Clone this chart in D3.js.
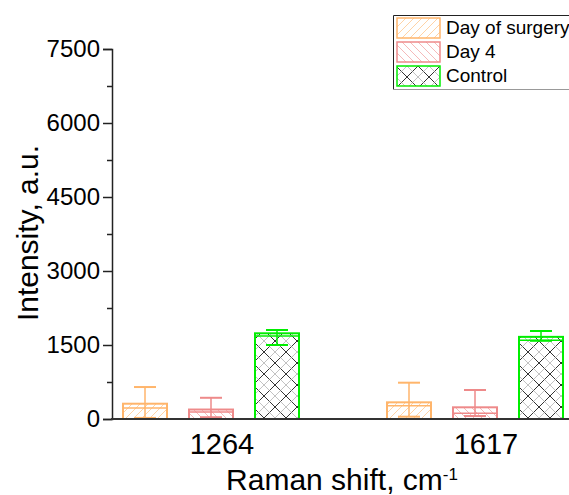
<!DOCTYPE html>
<html>
<head>
<meta charset="utf-8">
<script src="https://cdn.jsdelivr.net/npm/d3@7"></script>
<style>
  html, body { margin: 0; padding: 0; background: #fff; }
  svg { display: block; font-family: "Liberation Sans", Arial, sans-serif; }
</style>
</head>
<body>
<svg id="chart" width="569" height="495"></svg>
<script>
// Raman band positions and groups
const shifts = ["1264", "1617"];
const groups = ["Day of surgery", "Day 4", "Control"];

// Column heights per group (one value per band)
const barTop = {
  "Day of surgery": [310, 338],
  "Day 4": [192, 237],
  "Control": [1737, 1665]
};
// Second horizontal line drawn inside each column
const innerLine = {
  "Day of surgery": [225, 270],
  "Day 4": [140, 115],
  "Control": [1683, 1595]
};
// Error bar limits
const errLow = {
  "Day of surgery": [22, 47],
  "Day 4": [36, 60],
  "Control": [1500, 1585]
};
const errHigh = {
  "Day of surgery": [648, 736],
  "Day 4": [430, 588],
  "Control": [1804, 1784]
};

const yTicks = [0, 1500, 3000, 4500, 6000, 7500];
const yMinorTicks = [750, 2250, 3750, 5250, 6750];

const colors = {
  "Day of surgery": "#FFB56B",
  "Day 4": "#EE8A8A",
  "Control": "#00EE00"
};

const svg = d3.select("#chart");
const defs = svg.append("defs");

// Hatch patterns
function single(id, color, dir, step, opacity) {
  const p = defs.append("pattern")
    .attr("id", id).attr("patternUnits", "userSpaceOnUse")
    .attr("width", step).attr("height", step);
  p.append("rect").attr("width", step).attr("height", step).attr("fill", "#fff");
  const d = dir === "/"
    ? `M0,${step} L${step},0 M${-step},${step} L0,0 M${step},${2*step} L${2*step},${step}`
    : `M0,0 L${step},${step} M${-step},0 L0,${step} M${step},0 L${2*step},${step}`;
  p.append("path").attr("d", d).attr("stroke", color).attr("stroke-width", 1)
    .attr("opacity", opacity).attr("fill", "none");
}
single("pat-surgery", "#FFB56B", "/", 8, 0.6);
single("pat-day4", "#EE8A8A", "\\", 8, 0.6);

// Cross-hatch with alternating dark and light lines
(function () {
  const s = 22, h = s / 2;
  const p = defs.append("pattern")
    .attr("id", "pat-control").attr("patternUnits", "userSpaceOnUse")
    .attr("width", s).attr("height", s);
  p.append("rect").attr("width", s).attr("height", s).attr("fill", "#fff");
  const fwd = o => `M${o - s},${s} L${o},0 M${o},${s} L${o + s},0`;
  const bwd = o => `M${o - s},0 L${o},${s} M${o},0 L${o + s},${s}`;
  [[0, "#111", 0.85], [h, "#999", 0.6]].forEach(([o, c, op]) => {
    p.append("path").attr("d", fwd(o)).attr("stroke", c).attr("opacity", op).attr("fill", "none");
    p.append("path").attr("d", bwd(o)).attr("stroke", c).attr("opacity", op).attr("fill", "none");
  });
})();

const patterns = {
  "Day of surgery": "url(#pat-surgery)",
  "Day 4": "url(#pat-day4)",
  "Control": "url(#pat-control)"
};

// Scales
const y = d3.scaleLinear().domain([0, 7500]).range([419, 49]);
const x0 = d3.scalePoint().domain(shifts).range([211, 475]);
const x1 = d3.scaleBand().domain(groups).range([-99, 99])
  .paddingInner(1 / 3).paddingOuter(1 / 6);
const bw = x1.bandwidth();

// Bars
const plot = svg.append("g");
shifts.forEach((s, i) => {
  groups.forEach(g => {
    const left = x0(s) + x1(g);
    const cx = left + bw / 2;
    const gg = plot.append("g");
    gg.append("rect")
      .attr("x", left).attr("y", y(barTop[g][i]))
      .attr("width", bw).attr("height", y(0) - y(barTop[g][i]))
      .attr("fill", patterns[g])
      .attr("stroke", colors[g]).attr("stroke-width", 2);
    gg.append("line")
      .attr("x1", left).attr("x2", left + bw)
      .attr("y1", y(innerLine[g][i])).attr("y2", y(innerLine[g][i]))
      .attr("stroke", colors[g]).attr("stroke-width", 1.5);
    // error bar
    gg.append("line")
      .attr("x1", cx).attr("x2", cx)
      .attr("y1", y(errLow[g][i])).attr("y2", y(errHigh[g][i]))
      .attr("stroke", colors[g]).attr("stroke-width", 1.5);
    [errLow[g][i], errHigh[g][i]].forEach(v => {
      gg.append("line")
        .attr("x1", cx - 11).attr("x2", cx + 11)
        .attr("y1", y(v)).attr("y2", y(v))
        .attr("stroke", colors[g]).attr("stroke-width", 2);
    });
  });
});

// Y axis
const yAxis = d3.axisLeft(y).tickValues(yTicks).tickSize(9).tickPadding(3)
  .tickFormat(d3.format("d"));
const ya = svg.append("g").attr("transform", "translate(112,0)").call(yAxis);
ya.select(".domain").attr("stroke", "#222").attr("stroke-width", 1.5);
ya.selectAll(".tick line").attr("stroke", "#222").attr("stroke-width", 1.5);
ya.selectAll(".tick text").attr("font-size", 24).attr("fill", "#000")
  .attr("font-family", "Liberation Sans, Arial, sans-serif");
const yMinor = d3.axisLeft(y).tickValues(yMinorTicks).tickSize(5).tickFormat("");
const ym = svg.append("g").attr("transform", "translate(112,0)").call(yMinor);
ym.select(".domain").remove();
ym.selectAll(".tick line").attr("stroke", "#222").attr("stroke-width", 1.5);

// X axis line with band labels
svg.append("line").attr("x1", 111).attr("x2", 569)
  .attr("y1", y(0)).attr("y2", y(0))
  .attr("stroke", "#333").attr("stroke-width", 2);
svg.append("g").selectAll("text").data(shifts).join("text")
  .attr("x", d => x0(d) + 11).attr("y", 454)
  .attr("text-anchor", "middle").attr("font-size", 29).attr("fill", "#000")
  .text(d => d);

// Axis titles
svg.append("text")
  .attr("transform", "translate(38,233) rotate(-90)")
  .attr("text-anchor", "middle").attr("font-size", 30).attr("fill", "#000")
  .text("Intensity, a.u.");
const xt = svg.append("text")
  .attr("x", 342).attr("y", 490)
  .attr("text-anchor", "middle").attr("font-size", 30).attr("fill", "#000");
xt.append("tspan").text("Raman shift, cm");
xt.append("tspan").attr("font-size", 17).attr("dy", -10).text("-1");

// Legend
const lg = svg.append("g");
lg.append("rect").attr("x", 393.5).attr("y", 15.5).attr("width", 200).attr("height", 74)
  .attr("fill", "#fff").attr("stroke", "none");
lg.append("path").attr("d", "M569,15.5 H393.5 V89.5").attr("stroke", "#222").attr("fill", "none");
lg.append("line").attr("x1", 393.5).attr("x2", 569).attr("y1", 89.5).attr("y2", 89.5)
  .attr("stroke", "#999");
groups.forEach((g, i) => {
  const top = 18 + i * 24;
  lg.append("rect").attr("x", 397).attr("y", top)
    .attr("width", 43).attr("height", 20)
    .attr("fill", patterns[g]).attr("stroke", colors[g]).attr("stroke-width", 1.5);
  lg.append("text").attr("x", 446).attr("y", top + 16)
    .attr("font-size", 19).attr("fill", "#000").text(g);
});
</script>
</body>
</html>
